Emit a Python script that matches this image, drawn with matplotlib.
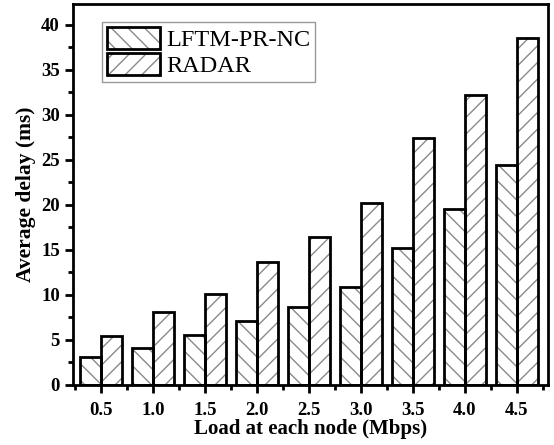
import numpy as np
import matplotlib
matplotlib.use("Agg")
import matplotlib.pyplot as plt
from matplotlib.patches import Patch
from matplotlib.legend_handler import HandlerTuple
from matplotlib.ticker import MultipleLocator, FixedLocator

plt.rcParams['font.family'] = 'Liberation Serif'
plt.rcParams['hatch.linewidth'] = 1.0

loads = [0.5, 1.0, 1.5, 2.0, 2.5, 3.0, 3.5, 4.0, 4.5]
lftm = [3.15, 4.05, 5.5, 7.15, 8.7, 10.9, 15.2, 19.5, 24.4]
radar = [5.45, 8.15, 10.1, 13.6, 16.45, 20.2, 27.4, 32.2, 38.5]
names = ['LFTM-PR-NC', 'RADAR']

x = np.array(loads)
w = 0.2

fig = plt.figure(figsize=(5.54, 4.45), dpi=100)
ax = fig.add_axes([0.132, 0.135, 0.857, 0.856])

hatch_col = '#8a8a8a'
# hatched fill, then black outline on top
ax.bar(x - w / 2, lftm, w, color='white', edgecolor=hatch_col, hatch='\\\\', linewidth=0)
ax.bar(x + w / 2, radar, w, color='white', edgecolor=hatch_col, hatch='//', linewidth=0)
ax.bar(x - w / 2, lftm, w, fill=False, edgecolor='black', linewidth=2)
ax.bar(x + w / 2, radar, w, fill=False, edgecolor='black', linewidth=2)

ax.set_xlim(0.232, 4.8)
ax.set_ylim(0, 42.3)
ax.set_xticks(loads)
ax.set_xticklabels([f'{v:.1f}' for v in loads])
ax.xaxis.set_minor_locator(FixedLocator(np.arange(0.25, 4.8, 0.5)))
ax.yaxis.set_major_locator(MultipleLocator(5))
ax.yaxis.set_minor_locator(MultipleLocator(2.5))

for s in ax.spines.values():
    s.set_linewidth(2)
ax.tick_params(which='major', direction='out', length=6, width=2, labelsize=13.5)
ax.tick_params(axis='x', which='major', pad=6)
ax.tick_params(which='minor', direction='out', length=3.5, width=2)
for lab in ax.get_xticklabels() + ax.get_yticklabels():
    lab.set_fontweight('bold')

ax.set_xlabel('Load at each node (Mbps)', fontsize=15, fontweight='bold', labelpad=0)
ax.set_ylabel('Average delay (ms)', fontsize=15.5, fontweight='bold', labelpad=4)

h1 = (Patch(facecolor='white', edgecolor=hatch_col, hatch='\\\\', linewidth=0),
      Patch(fill=False, edgecolor='black', linewidth=2))
h2 = (Patch(facecolor='white', edgecolor=hatch_col, hatch='//', linewidth=0),
      Patch(fill=False, edgecolor='black', linewidth=2))
leg = ax.legend([h1, h2], names, handler_map={tuple: HandlerTuple(ndivide=1, pad=0)},
                loc='upper left', bbox_to_anchor=(0.061, 0.953), fontsize=17.5,
                fancybox=False, edgecolor='#999999', framealpha=1,
                handlelength=2.2, handleheight=1.05, handletextpad=0.25,
                borderpad=0.2, borderaxespad=0, labelspacing=0.05)
leg.get_frame().set_linewidth(1)

fig.savefig('out.png', dpi=100)
